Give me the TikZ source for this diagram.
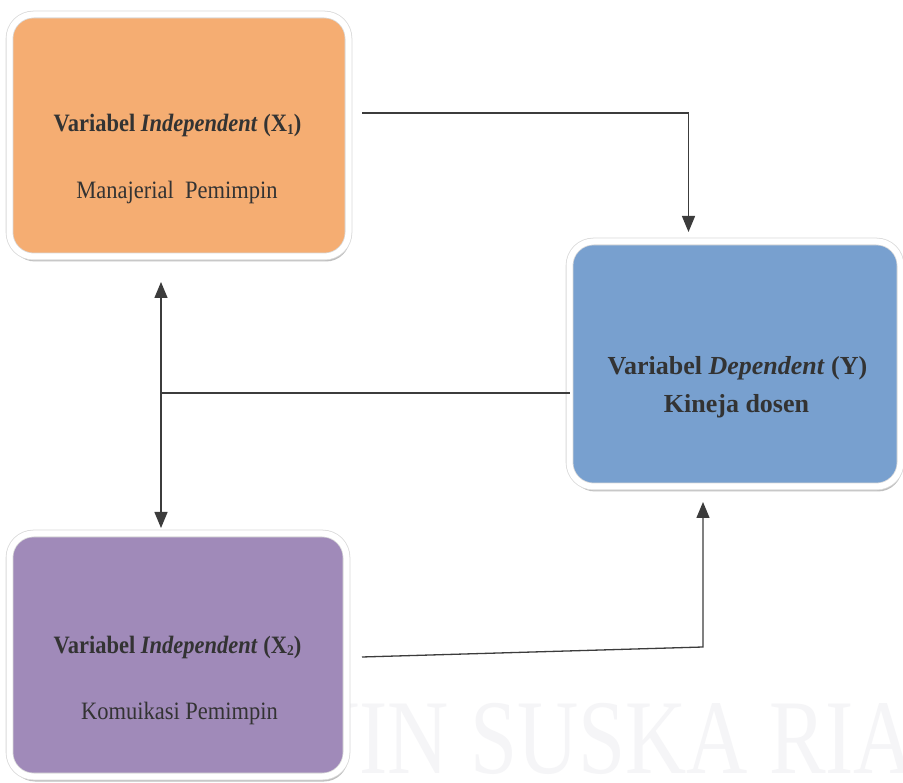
\documentclass[tikz,border=0pt]{standalone}
\usepackage{fontspec}
\setmainfont{Liberation Serif}
\newfontfamily\narrowserif[FakeStretch=0.9]{Liberation Serif}
\newfontfamily\wmserif[FakeStretch=0.8]{Liberation Serif}
\usetikzlibrary{arrows.meta,shadows}
\definecolor{boxorange}{HTML}{F5AD72}
\definecolor{boxblue}{HTML}{78A0CF}
\definecolor{boxpurple}{HTML}{A08AB9}
\definecolor{txtgray}{HTML}{333333}
\definecolor{linegray}{HTML}{3C3C3C}
\definecolor{wmgray}{HTML}{F5F5F7}
\definecolor{rimgray}{HTML}{DADADA}
\tikzset{
  varbox/.style={rounded corners=24pt, draw=rimgray, line width=0.8pt, double=white, double distance=6pt, inner sep=0pt,
    drop shadow={shadow xshift=1.5pt, shadow yshift=-5pt, fill=black!55, opacity=0.45}},
  lefttext/.style={anchor=base, inner sep=0pt, text=txtgray, font=\narrowserif\fontsize{25}{30}\selectfont},
  righttext/.style={anchor=base, inner sep=0pt, text=txtgray, font=\fontsize{26}{31}\selectfont\bfseries},
  conn/.style={draw=linegray, line width=1.3pt},
  arr/.style={conn, -{Triangle[length=16pt,width=13pt]}},
  darr/.style={conn, {Triangle[length=16pt,width=13pt]}-{Triangle[length=16pt,width=13pt]}}
}
\newcommand{\subone}[1]{\raisebox{-0.25ex}{\fontsize{15}{15}\selectfont #1}}
\begin{document}
\begin{tikzpicture}[x=1pt,y=-1pt]
\useasboundingbox (0,0) rectangle (903,783);
\fill[white] (0,0) rectangle (903,783);
% faint watermark
\node[anchor=base west, inner sep=0pt, text=wmgray, font=\wmserif\fontsize{106}{110}\selectfont] (wm) at (298,773) {UIN SUSKA RIAU};
% boxes
\node[varbox, fill=boxorange, minimum width=339pt, minimum height=242pt] (x1) at (179,135.5) {};
\node[varbox, fill=boxblue, minimum width=331pt, minimum height=245pt] (y) at (735,364) {};
\node[varbox, fill=boxpurple, minimum width=337pt, minimum height=243pt] (x2) at (178,655) {};
% texts
\node[lefttext] (x1a) at (177.5,132) {\bfseries Variabel \textit{Independent} (X\subone{1})};
\node[lefttext] (x1b) at (177,199) {Manajerial\ \ Pemimpin};
\node[righttext] (ya) at (737.5,375) {Variabel \textit{Dependent} (Y)};
\node[righttext] (yb) at (736.5,413) {Kineja dosen};
\node[lefttext] (x2a) at (177.5,653) {\bfseries Variabel \textit{Independent} (X\subone{2})};
\node[lefttext] (x2b) at (179.5,719) {Komuikasi Pemimpin};
% connector end points
\coordinate (a1s) at (362,113);
\coordinate (a1e) at (688.5,232);
\coordinate (vtop) at (161,282);
\coordinate (vbot) at (161,528);
\coordinate (hjoin) at (161,393);
\coordinate (hend) at (570,393);
\coordinate (a3s) at (362,657);
\coordinate (a3k) at (703,647);
\coordinate (a3e) at (703,502);
% connectors
\draw[arr] (a1s) -| (a1e);
\draw[darr] (vtop) -- (vbot);
\draw[conn] (hjoin) -- (hend);
\draw[arr] (a3s) -- (a3k) -- (a3e);
\end{tikzpicture}
\end{document}
